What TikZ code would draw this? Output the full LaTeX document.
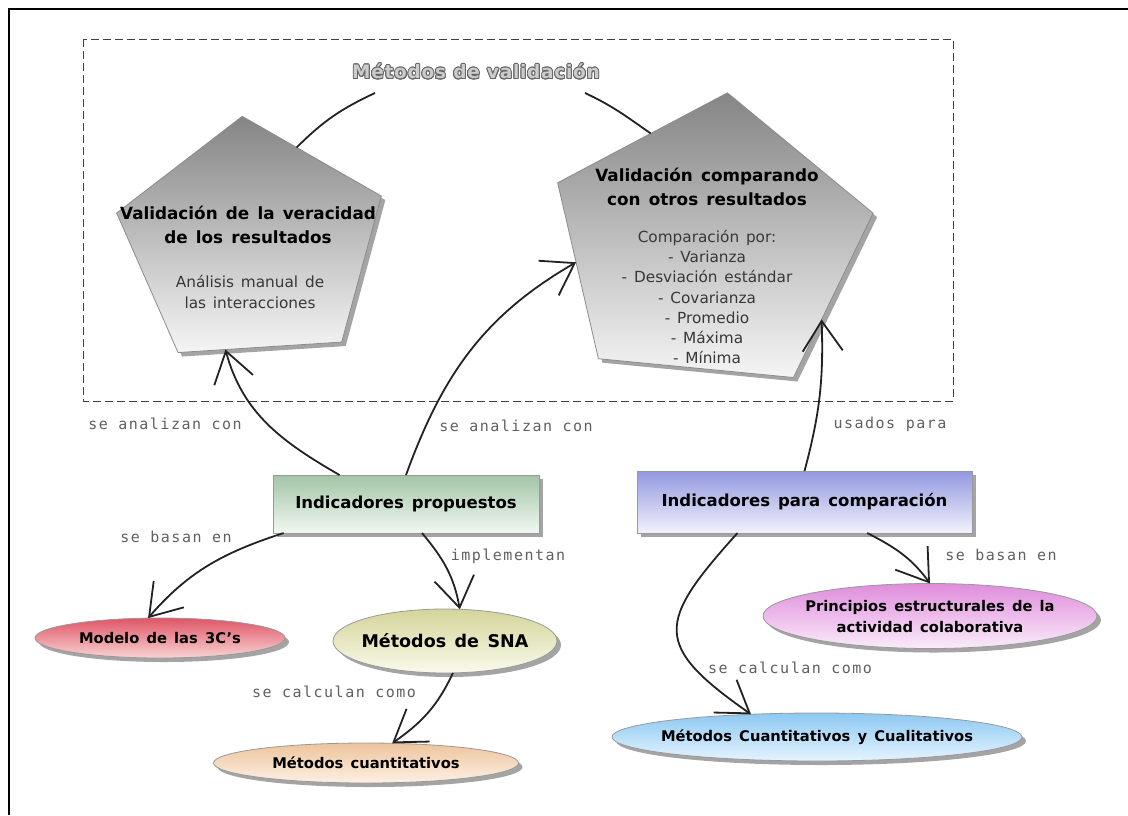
\documentclass[tikz,border=0pt]{standalone}
\usepackage{fontspec}
\setmainfont[WordSpace=1.4]{DejaVu Sans}
\newfontfamily\monof[LetterSpace=10]{DejaVu Sans Mono}
\newfontfamily\titlef[LetterSpace=4]{DejaVu Sans}
\usepackage{contour}
\contourlength{0.9pt}
\usetikzlibrary{arrows.meta,shapes.geometric,shadows,calc}
\definecolor{edgec}{HTML}{222222}
\definecolor{lblc}{HTML}{606060}
\definecolor{ipT}{HTML}{A2C4A6}\definecolor{ipB}{HTML}{F2F8F2}
\definecolor{icT}{HTML}{9298E0}\definecolor{icB}{HTML}{F2F2FB}
\definecolor{moT}{HTML}{E05566}\definecolor{moB}{HTML}{F8D4D4}
\definecolor{snT}{HTML}{D4D49A}\definecolor{snB}{HTML}{FAFAEC}
\definecolor{cuT}{HTML}{EEC49C}\definecolor{cuB}{HTML}{FCF0E4}
\definecolor{prT}{HTML}{E08CDC}\definecolor{prB}{HTML}{FAECFA}
\definecolor{mcT}{HTML}{8CC8F2}\definecolor{mcB}{HTML}{E6F4FF}
\begin{document}
\begin{tikzpicture}[x=1pt,y=-1pt,
  shad/.style={drop shadow={shadow xshift=4pt,shadow yshift=-4pt,fill=black!65,opacity=0.55}},
  conn/.style={draw=edgec, line width=1.8pt, -{Straight Barb[length=30pt,width=40pt,line width=1.8pt]}},
  arcline/.style={draw=edgec, line width=1.8pt},
  lbl/.style={font=\monof\fontsize{15}{15}\selectfont, text=lblc, inner sep=0pt},
  box/.style={rectangle, draw=black!40, line width=0.8pt, shad, inner sep=0pt, outer sep=0pt, font=\bfseries\fontsize{16.5}{20}\selectfont},
  oval/.style={ellipse, draw=black!40, line width=0.8pt, shad, inner sep=0pt, outer sep=0pt},
  ovaltext/.style={inner sep=0pt, align=center, font=\bfseries\fontsize{14.7}{21}\selectfont},
  penta/.style={regular polygon, regular polygon sides=5, draw=black!45, line width=0.8pt, top color=black!48, bottom color=black!4, shad, inner sep=0pt, outer sep=0pt, transform shape},
  ptitle/.style={inner sep=0pt, align=center, font=\bfseries\fontsize{16.8}{23.5}\selectfont},
  psub/.style={inner sep=0pt, align=center, text=black!78, font=\fontsize{15.3}{20.2}\selectfont},
]
\useasboundingbox (0,0) rectangle (1128,815);
% outer frame (screenshot edge)
\draw[line width=2pt] (9,815) -- (9,9) -- (1128,9);
% dashed group
\draw[dash pattern=on 8pt off 4pt, black!75, line width=1pt] (83,39) rectangle (953,401);
\node[inner sep=0pt] (title) at (476,72) {\titlef\bfseries\fontsize{18.5}{18.5}\selectfont\contour{black!60}{\textcolor{black!20}{Métodos de validación}}};

% pentagons (slightly widened)
\begin{scope}[shift={(252,244)}, xscale=1.09]
  \node[penta, minimum size=256pt, shape border rotate=4] (lp) at (0,0) {};
\end{scope}
\begin{scope}[shift={(710,245)}, xscale=1.09]
  \node[penta, minimum size=306pt, shape border rotate=-6] (rp) at (0,0) {};
\end{scope}
\node[ptitle] (lpt) at (248,225) {Validación de la veracidad\\de los resultados};
\node[psub] (lps) at (250,292) {Análisis manual de\\las interacciones};
\node[ptitle] (rpt) at (707,187) {Validación comparando\\con otros resultados};
\node[psub] (rps) at (707,297) {Comparación por:\\- Varianza\\- Desviación estándar\\- Covarianza\\- Promedio\\- Máxima\\- Mínima};

% arc through the title
\coordinate (arcL) at (375,93);
\coordinate (arcR) at (585,93);
\draw[arcline] (arcL) to[out=205,in=45] (lp.67);
\draw[arcline] (arcR) to[out=-25,in=145] (rp.116);

% boxes
\node[box, top color=ipT, bottom color=ipB, minimum width=266pt, minimum height=58pt] (ip) at (406,504) {Indicadores propuestos};
\node[box, top color=icT, bottom color=icB, minimum width=335pt, minimum height=62pt] (ipc) at (804.5,502) {Indicadores para comparación};

% ellipses
\node[oval, top color=moT, bottom color=moB, minimum width=250pt, minimum height=40pt] (modelo) at (160,638) {};
\node[ovaltext] (modelot) at (160,638) {Modelo de las 3C’s};
\node[oval, top color=snT, bottom color=snB, minimum width=224pt, minimum height=64pt] (sna) at (445,641) {};
\node[ovaltext, font=\bfseries\fontsize{17.5}{21}\selectfont] (snat) at (445,641) {Métodos de SNA};
\node[oval, top color=cuT, bottom color=cuB, minimum width=305pt, minimum height=40pt] (cuant) at (366,763) {};
\node[ovaltext] (cuantt) at (366,763) {Métodos cuantitativos};
\node[oval, top color=prT, bottom color=prB, minimum width=334pt, minimum height=65pt] (pr) at (930,616) {};
\node[ovaltext] (prt) at (930,617) {Principios estructurales de la\\actividad colaborativa};
\node[oval, top color=mcT, bottom color=mcB, minimum width=410pt, minimum height=48pt] (mcc) at (817,737) {};
\node[ovaltext] (mcct) at (817,737) {Métodos Cuantitativos y Cualitativos};

% connectors
\draw[conn] ($(ip.north west)!0.25!(ip.north east)$) to[out=150,in=-75] (lp.-103);
\draw[conn] (ip.north) to[out=70,in=210] (rp.188);
\draw[conn] (ipc.north) to[out=75,in=-88] (rp.-36);
\draw[conn] ($(ip.south west)!0.04!(ip.south east)$) to[out=198,in=49] (modelo.121);
\draw[conn] ($(ip.south)+(16,0)$) to[out=-50,in=100] (sna.65);
\draw[conn] (sna.-76) to[out=245,in=35] (cuant.37);
\draw[conn] ($(ipc.south west)!0.30!(ipc.south east)$) to[out=228,in=145,looseness=1.7] (mcc.161);
\draw[conn] ($(ipc.south west)!0.687!(ipc.south east)$) to[out=-27,in=126] (pr.north);

% connector labels
\node[lbl] (l1) at (165,424) {se analizan con};
\node[lbl] (l2) at (516,426) {se analizan con};
\node[lbl] (l3) at (890,424) {usados para};
\node[lbl] (l4) at (176,537) {se basan en};
\node[lbl] (l5) at (508,556) {implementan};
\node[lbl] (l6) at (334,692) {se calculan como};
\node[lbl] (l7) at (1001,555) {se basan en};
\node[lbl] (l8) at (790,668) {se calculan como};
\end{tikzpicture}
\end{document}
